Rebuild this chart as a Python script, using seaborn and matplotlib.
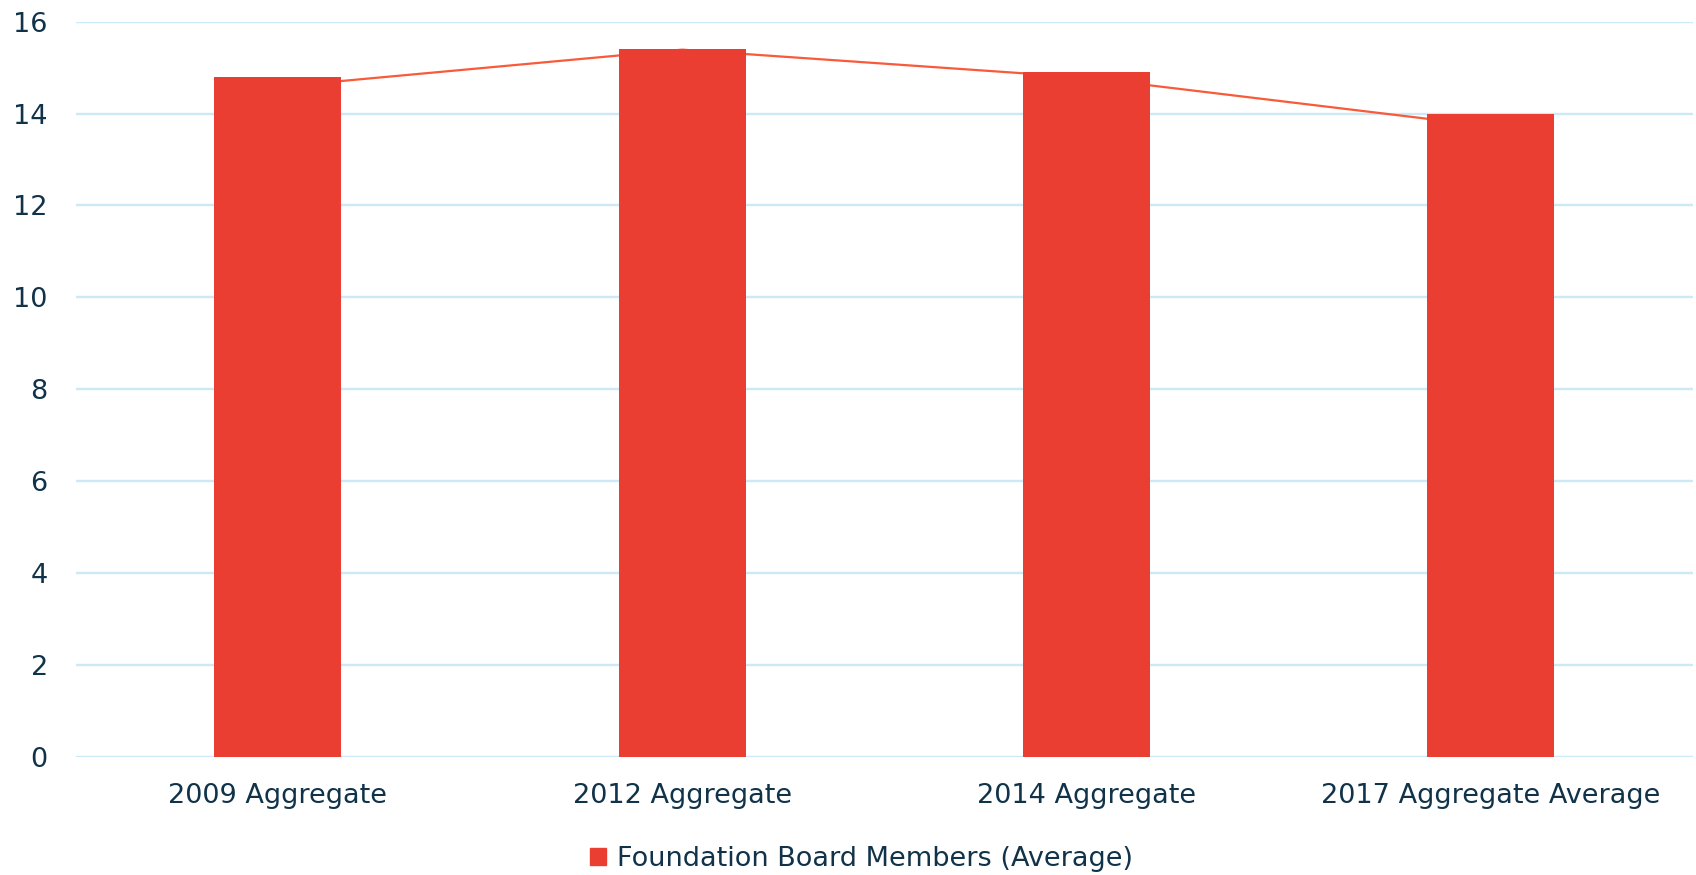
import matplotlib
matplotlib.use("Agg")
import matplotlib.pyplot as plt
import matplotlib.patches as mpatches
import numpy as np
import seaborn as sns

# --- data ---
categories = ["2009 Aggregate", "2012 Aggregate", "2014 Aggregate", "2017 Aggregate Average"]
board_members = [14.8, 15.4, 14.9, 14.0]
line_values = [14.58, 15.39, 14.78, 13.72]
y_ticks = [0, 2, 4, 6, 8, 10, 12, 14, 16]
legend_label = "Foundation Board Members (Average)"

BAR_COLOR = "#E93E31"
LINE_COLOR = "#F85A3A"
GRID_COLOR = "#CDE8F6"
TEXT_COLOR = "#10334A"

sns.set_style("white")
plt.rcParams["font.family"] = ["DejaVu Sans"]

fig = plt.figure(figsize=(16.96, 8.75), dpi=100)
ax = fig.add_axes([0.0446, 0.1349, 0.9535, 0.8404])

sns.barplot(x=categories, y=board_members, color=BAR_COLOR, saturation=1,
            width=0.314, linewidth=0, ax=ax, zorder=3)
sns.lineplot(x=np.arange(len(categories)), y=line_values, color=LINE_COLOR,
             linewidth=1.6, ax=ax, zorder=2)

ax.set_xlim(-0.5, len(categories) - 0.5)
ax.set_ylim(0, 16)
ax.set_yticks(y_ticks)
ax.set_yticklabels([str(t) for t in y_ticks])
ax.set_xticks(range(len(categories)))
ax.set_xticklabels(categories)

ax.yaxis.grid(True, color=GRID_COLOR, linewidth=1.7, zorder=0)
ax.set_axisbelow(True)
for s in ax.spines.values():
    s.set_visible(False)
ax.tick_params(axis="both", length=0, labelsize=19.5, colors=TEXT_COLOR)
ax.tick_params(axis="y", pad=20)
ax.tick_params(axis="x", pad=19)
ax.set_xlabel("")
ax.set_ylabel("")

handle = mpatches.Patch(color=BAR_COLOR, label=legend_label)
fig.legend(handles=[handle], loc="center", bbox_to_anchor=(0.508, 0.018),
           frameon=False, fontsize=19.5, handlelength=0.6, handleheight=0.6,
           handletextpad=0.4, labelcolor=TEXT_COLOR)

fig.savefig("out.png", dpi=100)
